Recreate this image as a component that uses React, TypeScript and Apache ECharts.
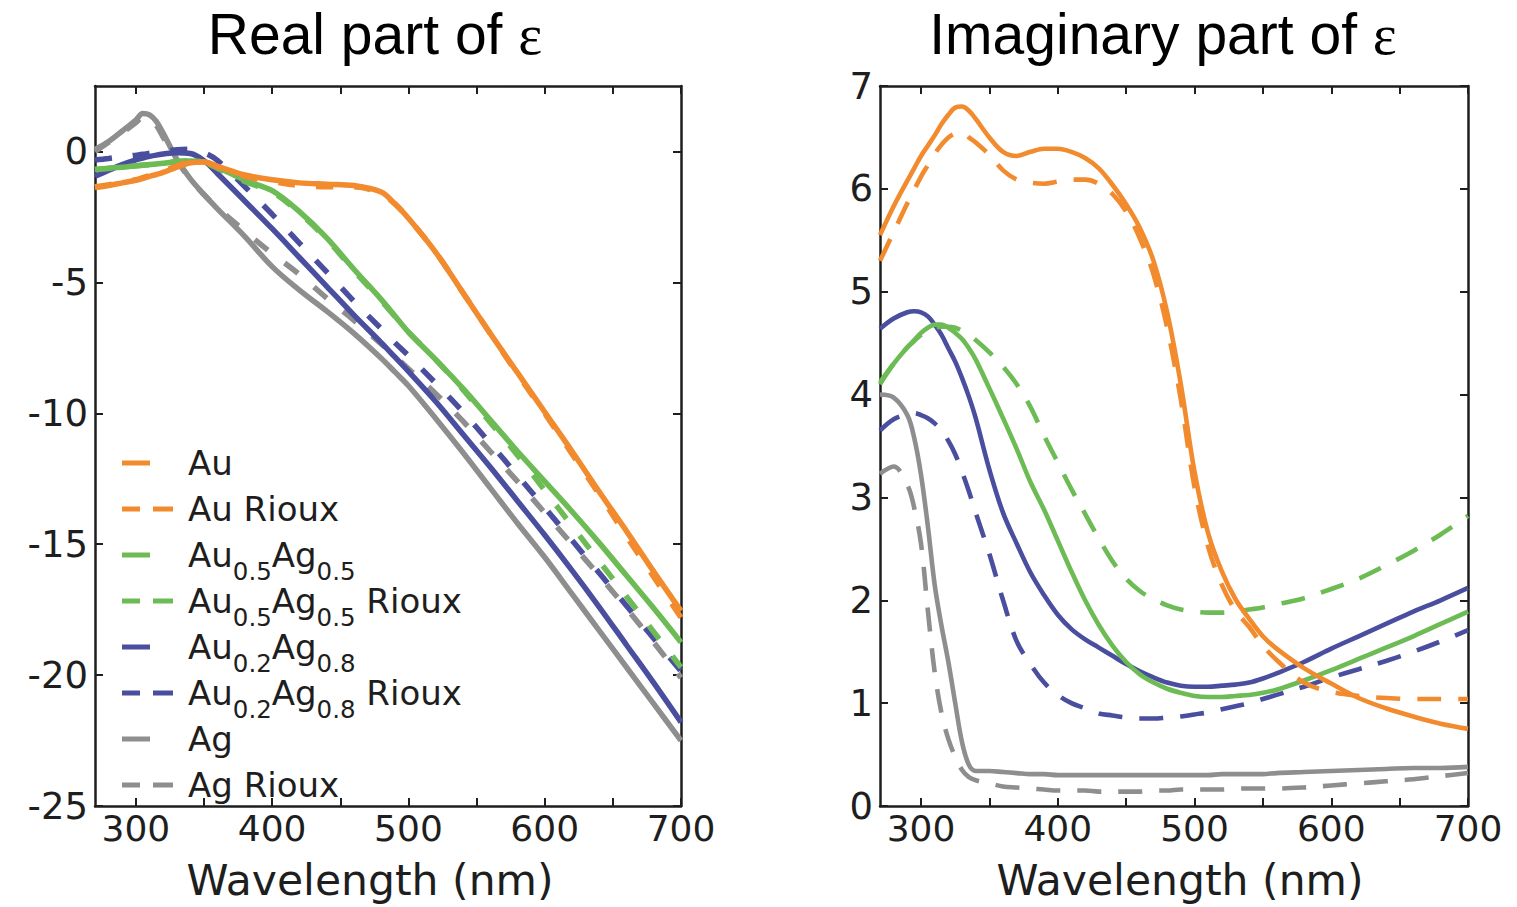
import React, { useEffect, useRef } from "react";
import * as echarts from "echarts";

// ---------- DATA ----------
const seriesNames = [
  "Au",
  "Au Rioux",
  "Au0.5Ag0.5",
  "Au0.5Ag0.5 Rioux",
  "Au0.2Ag0.8",
  "Au0.2Ag0.8 Rioux",
  "Ag",
  "Ag Rioux",
];
const legendLabels = [
  "Au",
  "Au Rioux",
  "Au{sub|0.5}Ag{sub|0.5}",
  "Au{sub|0.5}Ag{sub|0.5} Rioux",
  "Au{sub|0.2}Ag{sub|0.8}",
  "Au{sub|0.2}Ag{sub|0.8} Rioux",
  "Ag",
  "Ag Rioux",
];
const seriesColors = ["#F28A2E", "#F28A2E", "#6CBB55", "#6CBB55", "#4A4E9E", "#4A4E9E", "#8E8E8E", "#8E8E8E"];
const seriesDashed = [false, true, false, true, false, true, false, true];

const xTickValues = [300, 350, 400, 450, 500, 550, 600, 650, 700];
const xLabelValues = [300, 400, 500, 600, 700];
const realTickValues = [-25, -20, -15, -10, -5, 0];
const imagTickValues = [0, 1, 2, 3, 4, 5, 6, 7];

// Real part of epsilon
const realWavelength = [270, 280, 290, 300, 305, 310, 315, 320, 325, 330, 340, 350, 360, 380, 400, 420, 440, 460, 480, 490, 500, 520, 540, 560, 580, 600, 620, 640, 660, 680, 700];
const realAu = [-1.38, -1.3, -1.2, -1.1, -1.03, -0.95, -0.88, -0.8, -0.7, -0.6, -0.43, -0.4, -0.57, -0.9, -1.08, -1.2, -1.25, -1.3, -1.55, -2.0, -2.55, -3.85, -5.4, -6.95, -8.45, -9.95, -11.45, -13.0, -14.5, -16.05, -17.55];
const realAuRioux = [-1.35, -1.27, -1.18, -1.08, -1.0, -0.93, -0.85, -0.75, -0.65, -0.55, -0.4, -0.4, -0.6, -0.95, -1.15, -1.3, -1.35, -1.35, -1.6, -2.0, -2.55, -3.85, -5.4, -6.95, -8.5, -10.0, -11.55, -13.1, -14.7, -16.25, -17.8];
const realAu05 = [-0.68, -0.64, -0.6, -0.55, -0.53, -0.5, -0.48, -0.45, -0.42, -0.4, -0.36, -0.4, -0.6, -1.1, -1.5, -2.3, -3.3, -4.5, -5.65, -6.28, -6.9, -7.95, -9.05, -10.25, -11.45, -12.6, -13.75, -14.95, -16.2, -17.45, -18.75];
const realAu05Rioux = [-0.7, -0.65, -0.6, -0.55, -0.52, -0.5, -0.47, -0.44, -0.41, -0.38, -0.35, -0.42, -0.65, -1.15, -1.55, -2.35, -3.35, -4.55, -5.7, -6.3, -6.9, -7.95, -9.1, -10.35, -11.6, -12.95, -14.3, -15.65, -17.0, -18.35, -19.7];
const realAu02 = [-0.95, -0.72, -0.5, -0.32, -0.25, -0.19, -0.14, -0.1, -0.07, -0.05, -0.08, -0.35, -0.85, -1.9, -2.95, -4.05, -5.15, -6.25, -7.3, -7.85, -8.4, -9.55, -10.8, -12.05, -13.35, -14.65, -16.0, -17.4, -18.85, -20.3, -21.8];
const realAu02Rioux = [-0.33, -0.27, -0.2, -0.14, -0.11, -0.07, -0.03, 0.01, 0.04, 0.07, 0.08, -0.05, -0.35, -1.35, -2.4, -3.5, -4.6, -5.72, -6.77, -7.3, -7.8, -8.85, -9.95, -11.15, -12.37, -13.6, -14.85, -16.1, -17.35, -18.6, -19.85];
const realAg = [0.08, 0.38, 0.78, 1.2, 1.45, 1.4, 1.15, 0.7, 0.2, -0.3, -1.05, -1.65, -2.2, -3.25, -4.4, -5.3, -6.1, -6.95, -7.9, -8.42, -8.95, -10.2, -11.5, -12.85, -14.2, -15.5, -16.9, -18.3, -19.7, -21.1, -22.5];
const realAgRioux = [0.0, 0.35, 0.72, 1.1, 1.3, 1.28, 1.0, 0.55, 0.08, -0.35, -1.05, -1.65, -2.15, -3.05, -3.9, -4.7, -5.6, -6.45, -7.35, -7.82, -8.3, -9.25, -10.3, -11.45, -12.6, -13.8, -15.0, -16.2, -17.45, -18.75, -20.1];

// Imaginary part of epsilon
const imagWavelength = [270, 280, 290, 295, 300, 305, 310, 315, 320, 325, 330, 335, 340, 350, 360, 370, 380, 390, 400, 410, 420, 430, 440, 450, 460, 470, 480, 490, 500, 510, 520, 530, 540, 550, 560, 580, 600, 620, 640, 660, 680, 700];
const imagAu = [5.55, 5.83, 6.08, 6.2, 6.32, 6.42, 6.52, 6.63, 6.72, 6.79, 6.8, 6.76, 6.68, 6.5, 6.36, 6.32, 6.36, 6.39, 6.39, 6.36, 6.3, 6.2, 6.04, 5.85, 5.62, 5.3, 4.8, 4.1, 3.25, 2.65, 2.28, 2.01, 1.82, 1.65, 1.53, 1.34, 1.19, 1.05, 0.95, 0.87, 0.8, 0.75];
const imagAuRioux = [5.3, 5.58, 5.86, 5.99, 6.12, 6.23, 6.34, 6.43, 6.5, 6.54, 6.55, 6.5, 6.45, 6.33, 6.18, 6.09, 6.06, 6.05, 6.07, 6.09, 6.09, 6.05, 5.95, 5.78, 5.52, 5.17, 4.65, 3.95, 3.1, 2.52, 2.15, 1.9, 1.74, 1.56, 1.42, 1.2, 1.11, 1.07, 1.05, 1.04, 1.04, 1.04];
const imagAu05 = [4.12, 4.3, 4.46, 4.53, 4.6, 4.65, 4.68, 4.68, 4.65, 4.6, 4.54, 4.45, 4.34, 4.06, 3.77, 3.47, 3.15, 2.88, 2.58, 2.28, 2.0, 1.76, 1.56, 1.4, 1.28, 1.2, 1.14, 1.1, 1.07, 1.06, 1.06, 1.07, 1.08, 1.1, 1.13, 1.22, 1.32, 1.43, 1.54, 1.65, 1.77, 1.89];
const imagAu05Rioux = [4.1, 4.3, 4.46, 4.52, 4.58, 4.62, 4.65, 4.66, 4.66, 4.65, 4.62, 4.58, 4.53, 4.41, 4.27, 4.1, 3.88, 3.6, 3.34, 3.08, 2.84, 2.6, 2.38, 2.21, 2.09, 2.01, 1.95, 1.91, 1.89, 1.88, 1.88, 1.89, 1.91, 1.93, 1.96, 2.02, 2.11, 2.21, 2.34, 2.48, 2.64, 2.82];
const imagAu02 = [4.64, 4.74, 4.8, 4.81, 4.8, 4.76, 4.68, 4.58, 4.45, 4.32, 4.16, 3.98, 3.77, 3.27, 2.85, 2.55, 2.27, 2.05, 1.86, 1.72, 1.62, 1.54, 1.46, 1.38, 1.31, 1.25, 1.2, 1.17, 1.16, 1.16, 1.17, 1.18, 1.2, 1.24, 1.29, 1.4, 1.53, 1.65, 1.77, 1.89, 2.0, 2.12];
const imagAu02Rioux = [3.65, 3.76, 3.81, 3.82, 3.8, 3.77, 3.72, 3.65, 3.55, 3.42, 3.25, 3.06, 2.85, 2.45, 2.0, 1.6, 1.38, 1.2, 1.08, 1.0, 0.95, 0.9, 0.88, 0.86, 0.85, 0.85, 0.86, 0.87, 0.89, 0.91, 0.94, 0.97, 1.0, 1.04, 1.08, 1.16, 1.25, 1.33, 1.41, 1.5, 1.6, 1.71];
const imagAg = [4.0, 3.97, 3.8, 3.58, 3.22, 2.72, 2.15, 1.75, 1.4, 1.0, 0.62, 0.4, 0.34, 0.34, 0.33, 0.32, 0.31, 0.31, 0.3, 0.3, 0.3, 0.3, 0.3, 0.3, 0.3, 0.3, 0.3, 0.3, 0.3, 0.3, 0.31, 0.31, 0.31, 0.31, 0.32, 0.33, 0.34, 0.35, 0.36, 0.37, 0.37, 0.38];
const imagAgRioux = [3.23, 3.3, 3.12, 2.9, 2.55, 1.9, 1.3, 0.9, 0.65, 0.48, 0.35, 0.28, 0.25, 0.22, 0.19, 0.18, 0.17, 0.16, 0.15, 0.15, 0.15, 0.14, 0.14, 0.14, 0.14, 0.15, 0.15, 0.16, 0.16, 0.16, 0.16, 0.17, 0.17, 0.17, 0.17, 0.18, 0.2, 0.22, 0.24, 0.26, 0.29, 0.32];

const realValues = [realAu, realAuRioux, realAu05, realAu05Rioux, realAu02, realAu02Rioux, realAg, realAgRioux];
const imagValues = [imagAu, imagAuRioux, imagAu05, imagAu05Rioux, imagAu02, imagAu02Rioux, imagAg, imagAgRioux];

// ---------- STYLE ----------
const FONT = "DejaVu Sans";
const INK = "#1e1e1e";
const frameLine = { color: INK, width: 2.5 };
const tickLine = { color: INK, width: 2 };
const SOLID_ICON = "path://M0,0H28V5H0Z M51,5";
const DASH_ICON = "path://M0,0H18V5H0Z M31,0H51V5H31Z";
const LEGEND_ROW = 60; // uniform text line height of every legend row
const SUB_SIZE = 24.5;
const SUB_PAD = 34;

function buildOption() {
  const xAxisPair = (gridIndex: number, namePad: number[]) => [
    {
      type: "value",
      gridIndex,
      min: 270,
      max: 700,
      position: "bottom",
      axisLine: { show: true, onZero: false, lineStyle: frameLine },
      axisTick: { show: true, inside: true, length: 8, customValues: xTickValues, lineStyle: tickLine },
      axisLabel: { show: true, customValues: xLabelValues, margin: 4, fontSize: 36, fontFamily: FONT, color: INK },
      splitLine: { show: false },
      name: "Wavelength (nm)",
      nameLocation: "middle",
      nameGap: 53,
      nameTextStyle: { fontSize: 42.5, fontFamily: FONT, color: INK, padding: namePad },
    },
    {
      type: "value",
      gridIndex,
      min: 270,
      max: 700,
      position: "top",
      axisLine: { show: true, onZero: false, lineStyle: frameLine },
      axisTick: { show: true, inside: true, length: 8, customValues: xTickValues, lineStyle: tickLine },
      axisLabel: { show: false },
      splitLine: { show: false },
    },
  ];
  const yAxisPair = (gridIndex: number, min: number, max: number, ticks: number[]) => [
    {
      type: "value",
      gridIndex,
      min,
      max,
      position: "left",
      axisLine: { show: true, onZero: false, lineStyle: frameLine },
      axisTick: { show: true, inside: true, length: 8, customValues: ticks, lineStyle: tickLine },
      axisLabel: { show: true, customValues: ticks, margin: 7, fontSize: 37, fontFamily: FONT, color: INK },
      splitLine: { show: false },
    },
    {
      type: "value",
      gridIndex,
      min,
      max,
      position: "right",
      axisLine: { show: true, onZero: false, lineStyle: frameLine },
      axisTick: { show: true, inside: true, length: 8, customValues: ticks, lineStyle: tickLine },
      axisLabel: { show: false },
      splitLine: { show: false },
    },
  ];

  const series: any[] = [];
  // draw gray first, orange last (orange on top)
  for (let i = seriesNames.length - 1; i >= 0; i--) {
    const common = {
      type: "line",
      name: seriesNames[i],
      showSymbol: false,
      symbol: "none",
      smooth: 0.35,
      silent: true,
      emphasis: { disabled: true },
      color: seriesColors[i],
    };
    series.push({
      ...common,
      xAxisIndex: 0,
      yAxisIndex: 0,
      lineStyle: { color: seriesColors[i], width: 5.5, type: seriesDashed[i] ? [17, 21] : "solid", cap: "butt" },
      data: realWavelength.map((w, k) => [w, realValues[i][k]]),
    });
    series.push({
      ...common,
      xAxisIndex: 2,
      yAxisIndex: 2,
      lineStyle: { color: seriesColors[i], width: 4.6, type: seriesDashed[i] ? [24, 17] : "solid", cap: "butt" },
      data: imagWavelength.map((w, k) => [w, imagValues[i][k]]),
    });
  }

  const titleStyle = (text: string) => ({
    text,
    fontFamily: "Liberation Sans",
    fontSize: 57,
    fill: "#000",
    textAlign: "center",
    textVerticalAlign: "middle",
    rich: { eps: { fontFamily: "Liberation Serif", fontSize: 57, fill: "#000" } },
  });

  return {
    animation: false,
    backgroundColor: "#ffffff",
    grid: [
      { left: 95, top: 86, width: 586, height: 721 },
      { left: 880, top: 86, width: 588, height: 720 },
    ],
    xAxis: [...xAxisPair(0, [0, 36, 0, 0]), ...xAxisPair(1, [0, 0, 0, 12])],
    yAxis: [...yAxisPair(0, -25, 2.5, realTickValues), ...yAxisPair(1, 0, 7, imagTickValues)],
    legend: {
      orient: "vertical",
      left: 122,
      top: 463 - LEGEND_ROW / 2,
      padding: 0,
      itemGap: 46 - LEGEND_ROW,
      itemWidth: 51,
      itemHeight: 5,
      selectedMode: false,
      itemStyle: { borderWidth: 0 },
      data: seriesNames.map((n, i) => ({ name: n, icon: seriesDashed[i] ? DASH_ICON : SOLID_ICON })),
      formatter: (name: string) => legendLabels[seriesNames.indexOf(name)],
      textStyle: {
        fontFamily: FONT,
        fontSize: 34,
        lineHeight: LEGEND_ROW,
        color: INK,
        padding: [0, 0, 0, 10],
        rich: {
          sub: {
            fontFamily: FONT,
            fontSize: SUB_SIZE,
            lineHeight: 14,
            verticalAlign: "top",
            padding: [SUB_PAD, 0, 0, 0],
            color: INK,
          },
        },
      },
    },
    graphic: [
      { type: "text", x: 375, y: 34, silent: true, style: titleStyle("Real part of {eps|ε}") },
      { type: "text", x: 1163, y: 34, silent: true, style: titleStyle("Imaginary part of {eps|ε}") },
    ],
    series,
  };
}

export default function App() {
  const ref = useRef<HTMLDivElement>(null);
  useEffect(() => {
    if (!ref.current) return;
    const chart = echarts.init(ref.current, null, { renderer: "svg" });
    chart.setOption(buildOption() as any);
    return () => chart.dispose();
  }, []);
  return (
    <div
      ref={ref}
      style={{ position: "absolute", left: 0, top: 0, width: 1517, height: 907, background: "#fff" }}
    />
  );
}
